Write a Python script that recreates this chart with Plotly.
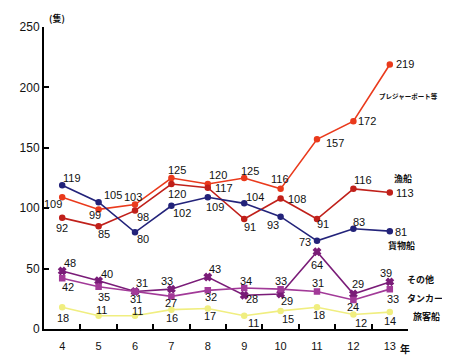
import plotly.graph_objects as go

years = ["4", "5", "6", "7", "8", "9", "10", "11", "12", "13"]

pleasure = [109, 99, 103, 125, 120, 125, 116, 157, 172, 219]
fishing = [92, 85, 98, 120, 117, 91, 108, 91, 116, 113]
cargo = [119, 105, 80, 102, 109, 104, 93, 73, 83, 81]
other = [48, 40, 31, 33, 43, 28, 29, 64, 29, 39]
tanker = [42, 35, 31, 27, 32, 34, 33, 31, 24, 33]
passenger = [18, 11, 11, 16, 17, 11, 15, 18, 12, 14]

names = ["プレジャーボート等", "漁船", "貨物船", "その他", "タンカー", "旅客船"]
y_ticks = [0, 50, 100, 150, 200, 250]

# label offsets in screen pixels (dx right, dy down)
off_pleasure = [(-9, 7), (-4, 6), (-2, -8), (6, -8), (10, -9), (6, -7), (-1, -10), (18, 4), (14, 0), (15, 0)]
off_fishing = [(0, 10), (5, 8), (8, 6), (6, 10), (16, 0), (6, 8), (16, 0), (6, 5), (10, -9), (15, 0)]
off_cargo = [(10, -7), (14, -7), (8, 7), (11, 7), (7, 10), (11, -6), (-8, 8), (-12, 1), (6, -7), (11, 1)]
off_other = [(8, -8), (8, -7), (7, -9), (-4, -8), (7, -8), (8, 4), (6, 7), (0, 13), (5, -10), (-4, -9)]
off_tanker = [(6, 9), (5, 10), (1, 7), (0, 7), (3, 7), (2, -7), (0, -8), (1, -9), (0, 7), (3, 10)]
off_passenger = [(1, 11), (3, -6), (2, -5), (1, 8), (2, 8), (9, 7), (7, 8), (2, 8), (8, 8), (0, 9)]

series = [
    (pleasure, "#ea3a1c", "circle", 5, off_pleasure),
    (fishing, "#c0201a", "circle", 5, off_fishing),
    (cargo, "#23237a", "circle", 5, off_cargo),
    (other, "#7a1c78", "x", 6, off_other),
    (tanker, "#a23a98", "square", 5, off_tanker),
    (passenger, "#f0ee80", "circle", 5, off_passenger),
]

# name label offsets (left edge) relative to the last point of each series
name_off = [(-12, 32), (3, -14), (-3, 14), (16, -2), (16, 9), (22, 4)]
name_size = [6.5, 9, 9, 9, 9, 9]

fig = go.Figure()
annotations = []
last = len(years) - 1
for (vals, color, sym, msize, offs), nm, (ndx, ndy), nsz in zip(series, names, name_off, name_size):
    fig.add_trace(go.Scatter(
        x=years, y=vals, mode="lines+markers", name=nm,
        line=dict(color=color, width=1.6),
        marker=dict(color=color, symbol=sym, size=msize,
                    line=dict(color=color, width=1.5)),
        showlegend=False,
    ))
    for i, (yv, (dx, dy)) in enumerate(zip(vals, offs)):
        annotations.append(dict(
            x=i, y=yv, xref="x", yref="y", text=str(yv), showarrow=False,
            xshift=dx, yshift=-dy,
            font=dict(family="Liberation Sans, Arial", size=11, color="#111"),
        ))
    annotations.append(dict(
        x=last, y=vals[last], xref="x", yref="y", text="<b>" + nm + "</b>", showarrow=False,
        xshift=ndx, yshift=-ndy, xanchor="left", borderpad=0,
        font=dict(family="Noto Sans CJK JP", size=nsz, color="#111"),
    ))

annotations.append(dict(x=0, y=1, xref="paper", yref="paper", text="<b>(隻)</b>",
                        showarrow=False, xanchor="left", yanchor="bottom", xshift=3, yshift=0,
                        font=dict(family="Noto Sans CJK JP", size=9, color="#111")))
annotations.append(dict(x=1, y=0, xref="paper", yref="paper", text="<b>年</b>",
                        showarrow=False, xanchor="center", yanchor="top", xshift=-3, yshift=-10,
                        font=dict(family="Noto Sans CJK JP", size=10, color="#111")))

# the page body adds an 8px margin, so the figure is 8px smaller and margins shifted
fig.update_layout(
    width=442, height=356,
    margin=dict(l=28, r=42, t=15, b=29),
    paper_bgcolor="white", plot_bgcolor="white",
    annotations=annotations,
    xaxis=dict(
        type="category", range=[-0.5, 9.5], tickson="boundaries",
        ticks="inside", ticklen=5, tickwidth=2, tickcolor="black",
        showline=True, linecolor="black", linewidth=2, showgrid=False,
        tickfont=dict(family="Liberation Sans, Arial", size=11, color="#111"),
        ticklabelstandoff=6, zeroline=False,
    ),
    yaxis=dict(
        range=[0, 250], tickvals=y_ticks, ticks="inside", ticklen=5, tickwidth=2,
        tickcolor="black", showline=True, linecolor="black", linewidth=2,
        showgrid=False, zeroline=False,
        tickfont=dict(family="Liberation Sans, Arial", size=12, color="#111"),
    ),
)

fig.write_html("out.html", config={"displayModeBar": False})
